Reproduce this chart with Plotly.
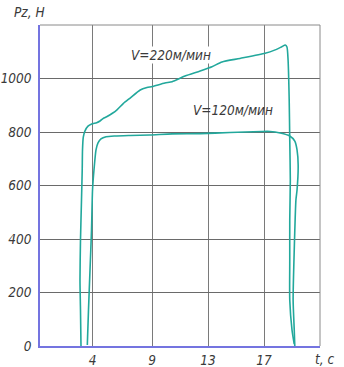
import plotly.graph_objects as go

# x in grid units of the chart (gridlines labelled 4, 9, 13, 17), y in N
v220_x = [0.732, 0.723, 0.714, 0.723, 0.741, 0.754, 0.759, 0.773, 0.804, 0.857, 0.923, 1.012, 1.071,
          1.13, 1.19, 1.30, 1.37, 1.49, 1.61, 1.79, 1.91, 2.005, 2.23, 2.36, 2.59, 2.86, 3.07, 3.25,
          3.57, 4.02, 4.20, 4.32, 4.38, 4.41, 4.43, 4.45, 4.46, 4.47, 4.46, 4.46, 4.46, 4.50, 4.54]
v220_y = [0, 135, 247, 396, 546, 658, 733, 781, 804, 822, 830, 835, 841,
          851, 857, 871, 882, 907, 927, 957, 966, 970, 983, 988, 1009, 1028, 1044, 1062,
          1075, 1094, 1107, 1119, 1125, 1118, 1069, 920, 770, 621, 471, 321, 172, 60, 7]

v120_x = [0.845, 0.866, 0.893, 0.92, 0.938, 0.964, 1.0, 1.036, 1.089, 1.18, 1.34, 1.61, 1.96, 2.36,
          2.86, 3.39, 3.96, 4.11, 4.29, 4.46, 4.55, 4.59, 4.61, 4.59, 4.57, 4.54, 4.52, 4.54, 4.55]
v120_y = [4, 135, 284, 434, 583, 658, 733, 759, 774, 782, 785, 787, 789, 793,
          794, 798, 802, 802, 796, 785, 766, 733, 677, 583, 546, 359, 172, 60, 0]

x_tickvals = [0.94, 2.0, 3.0, 4.0]
x_ticktext = ["4", "9", "13", "17"]
y_tickvals = [0, 200, 400, 600, 800, 1000]

line_color = "#22a89c"
font_family = "DejaVu Sans Condensed, Liberation Sans Narrow, Liberation Sans, sans-serif"
tick_font = dict(family=font_family, size=13.5, color="#3a3a3a", style="italic")

fig = go.Figure()
fig.add_trace(go.Scatter(x=v220_x, y=v220_y, mode="lines",
                         line=dict(color=line_color, width=1.6, shape="spline", smoothing=0.6),
                         showlegend=False, hoverinfo="skip"))
fig.add_trace(go.Scatter(x=v120_x, y=v120_y, mode="lines",
                         line=dict(color=line_color, width=1.6, shape="spline", smoothing=0.6),
                         showlegend=False, hoverinfo="skip"))

fig.update_layout(
    width=344, height=367,
    margin=dict(l=40, r=24, t=25, b=21),
    paper_bgcolor="white", plot_bgcolor="white",
    xaxis=dict(range=[0, 5], tickvals=x_tickvals, ticktext=x_ticktext,
               showgrid=True, gridcolor="#7a7a7a", gridwidth=1,
               showline=True, linecolor="#7474e0", linewidth=1.5,
               zeroline=False, ticks="", tickfont=tick_font, ticklabelstandoff=1,
               automargin=False),
    yaxis=dict(range=[0, 1200], tickvals=y_tickvals,
               showgrid=True, gridcolor="#6a6a6a", gridwidth=1,
               showline=True, linecolor="#7474e0", linewidth=1.5,
               zeroline=False, ticks="", tickfont=tick_font, ticklabelstandoff=4,
               automargin=False),
    shapes=[
        dict(type="line", xref="paper", yref="paper", x0=0, x1=1, y0=1, y1=1,
             line=dict(color="#8a8a8a", width=1)),
        dict(type="line", xref="paper", yref="paper", x0=1, x1=1, y0=0, y1=1,
             line=dict(color="#8a8a8a", width=1)),
    ],
    annotations=[
        dict(text="Pz, H", xref="paper", yref="paper", x=-0.1, y=1.01, xanchor="left",
             yanchor="bottom", showarrow=False, font=tick_font),
        dict(text="t, c", xref="paper", yref="paper", x=0.975, y=-0.01, xanchor="left",
             yanchor="top", showarrow=False, font=tick_font),
        dict(text="V=220м/мин", x=2.34, y=1088, xanchor="center", yanchor="middle",
             showarrow=False, font=tick_font, bgcolor="white", borderpad=0),
        dict(text="V=120м/мин", x=3.45, y=882, xanchor="center", yanchor="middle",
             showarrow=False, font=tick_font),
    ],
)

fig.write_html("out.html", config={"displayModeBar": False},
               post_script="document.body.style.margin='0';document.body.style.overflow='hidden';")
